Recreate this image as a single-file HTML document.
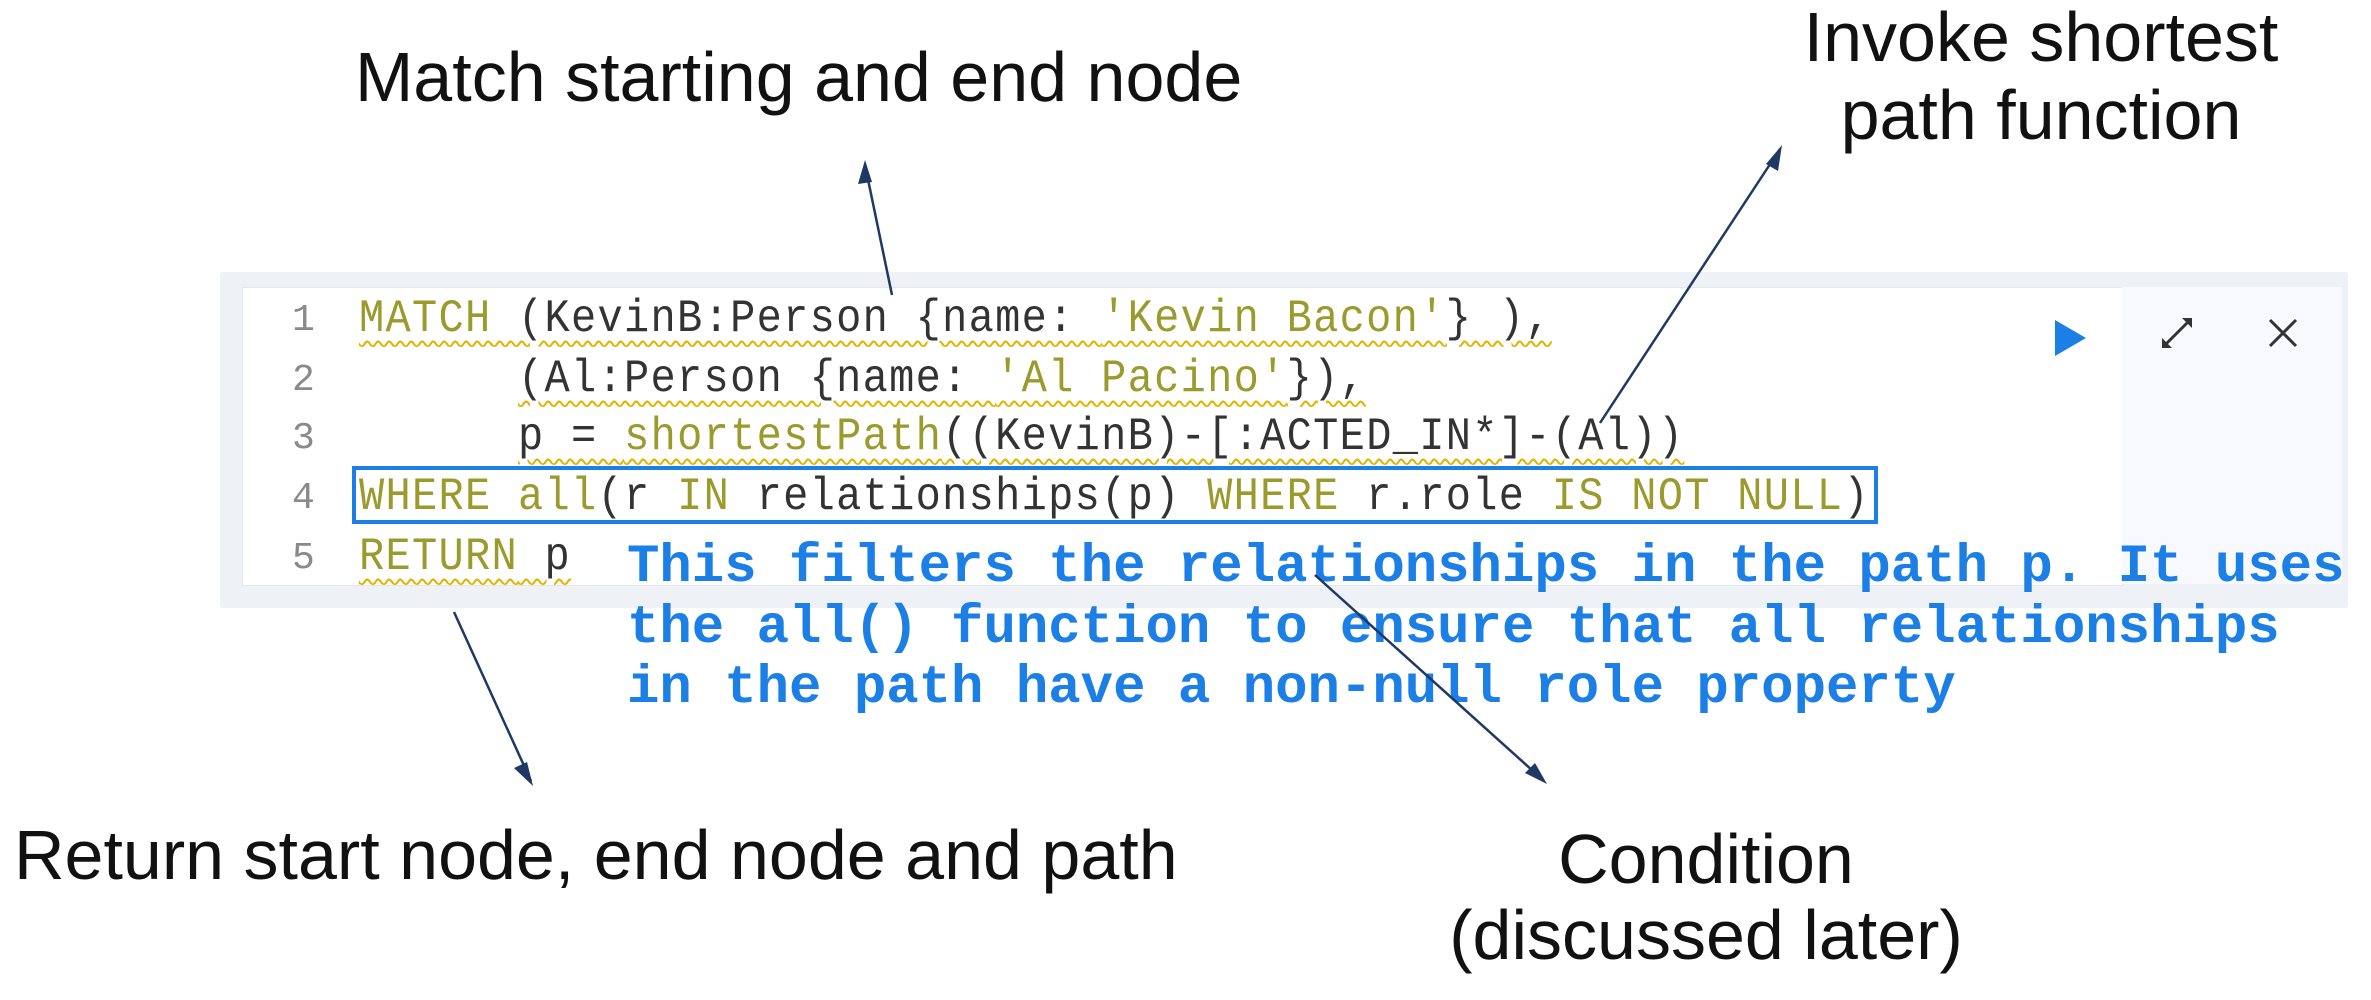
<!DOCTYPE html>
<html><head><meta charset="utf-8"><style>
body{margin:0;width:2371px;height:1000px;background:#fff;position:relative;overflow:hidden;font-family:"Liberation Sans",sans-serif}
.t{position:absolute;font-size:70px;color:#111;white-space:nowrap;line-height:1}
.panel{position:absolute;left:220px;top:272px;width:2128px;height:336px;background:#eef1f5;border-radius:3px}
.ed{position:absolute;left:242px;top:287px;width:1879px;height:297px;background:#fff;border:1px solid #e4e7ec}
.side{position:absolute;left:2122px;top:287px;width:220px;height:297px;background:#f8f9fc}
.ln{position:absolute;left:292px;font:38px "Liberation Mono",monospace;color:#8a8a8a;line-height:1}
.code{position:absolute;left:359px;font:42px "Liberation Mono",monospace;letter-spacing:1.3px;color:#333;white-space:pre;line-height:1;transform:scaleY(1.1);transform-origin:0 0}
.k{color:#9b9a2c}
.sq{text-decoration:underline wavy #e2b400;text-decoration-thickness:2px;text-underline-offset:8px}
.blue{position:absolute;left:627px;font:bold 54px "Liberation Mono",monospace;color:#1b7fe6;white-space:pre;line-height:1;letter-spacing:0px}
</style></head><body>
<div class="panel"></div>
<div class="ed"></div>
<div class="side"></div>
<div class="ln" style="top:302px">1</div>
<div class="ln" style="top:362px">2</div>
<div class="ln" style="top:420px">3</div>
<div class="ln" style="top:480px">4</div>
<div class="ln" style="top:540px">5</div>
<div class="code sq" style="top:296px"><span class="k">MATCH</span> (KevinB:Person {name: <span class="k">'Kevin Bacon'</span>} ),</div>
<div class="code" style="top:356px">      <span class="sq">(Al:Person {name: <span class="k">'Al Pacino'</span>}),</span></div>
<div class="code" style="top:414px">      <span class="sq">p = <span class="k">shortestPath</span>((KevinB)-[:ACTED_IN*]-(Al))</span></div>
<div class="code" style="top:474px"><span class="k">WHERE all</span>(r <span class="k">IN</span> relationships(p) <span class="k">WHERE</span> r.role <span class="k">IS NOT NULL</span>)</div>
<div class="code" style="top:534px"><span class="sq"><span class="k">RETURN</span> p</span></div>
<div style="position:absolute;left:352px;top:466px;width:1518px;height:50px;border:4px solid #1b7fe6"></div>
<div class="blue" style="top:541px">This filters the relationships in the path p. It uses</div>
<div class="blue" style="top:602px">the all() function to ensure that all relationships</div>
<div class="blue" style="top:662px">in the path have a non-null role property</div>
<svg style="position:absolute;left:0;top:0" width="2371" height="1000">
<polygon points="2055,320 2086,338 2055,356" fill="#1b7fe6"/>
<g stroke="#333" stroke-width="3" fill="none"><line x1="2165" y1="345" x2="2189" y2="321"/><line x1="2270" y1="320" x2="2296" y2="346"/><line x1="2296" y1="320" x2="2270" y2="346"/></g>
<polygon points="2162,348 2162,338 2172,348" fill="#333"/><polygon points="2192,318 2182,318 2192,328" fill="#333"/>
<g stroke="#1f3864" stroke-width="2.5" fill="none">
<line x1="892" y1="295" x2="865" y2="165"/>
<line x1="1600" y1="423" x2="1780" y2="149"/>
<line x1="454" y1="612" x2="531" y2="781"/>
<line x1="1315" y1="575" x2="1543" y2="780"/>
</g>
<g fill="#1f3864">
<polygon points="865,160 858,184 872,182"/>
<polygon points="1782,145 1766,164 1778,171"/>
<polygon points="533,786 527,762 514,768"/>
<polygon points="1547,784 1535,763 1525,773"/>
</g>
</svg>
<div class="t" style="left:355px;top:42px">Match starting and end node</div>
<div class="t" style="left:1781px;top:2px;width:520px;text-align:center">Invoke shortest</div>
<div class="t" style="left:1781px;top:80px;width:520px;text-align:center">path function</div>
<div class="t" style="left:14px;top:820px">Return start node, end node and path</div>
<div class="t" style="left:1406px;top:824px;width:600px;text-align:center">Condition</div>
<div class="t" style="left:1406px;top:900px;width:600px;text-align:center">(discussed later)</div>
</body></html>
